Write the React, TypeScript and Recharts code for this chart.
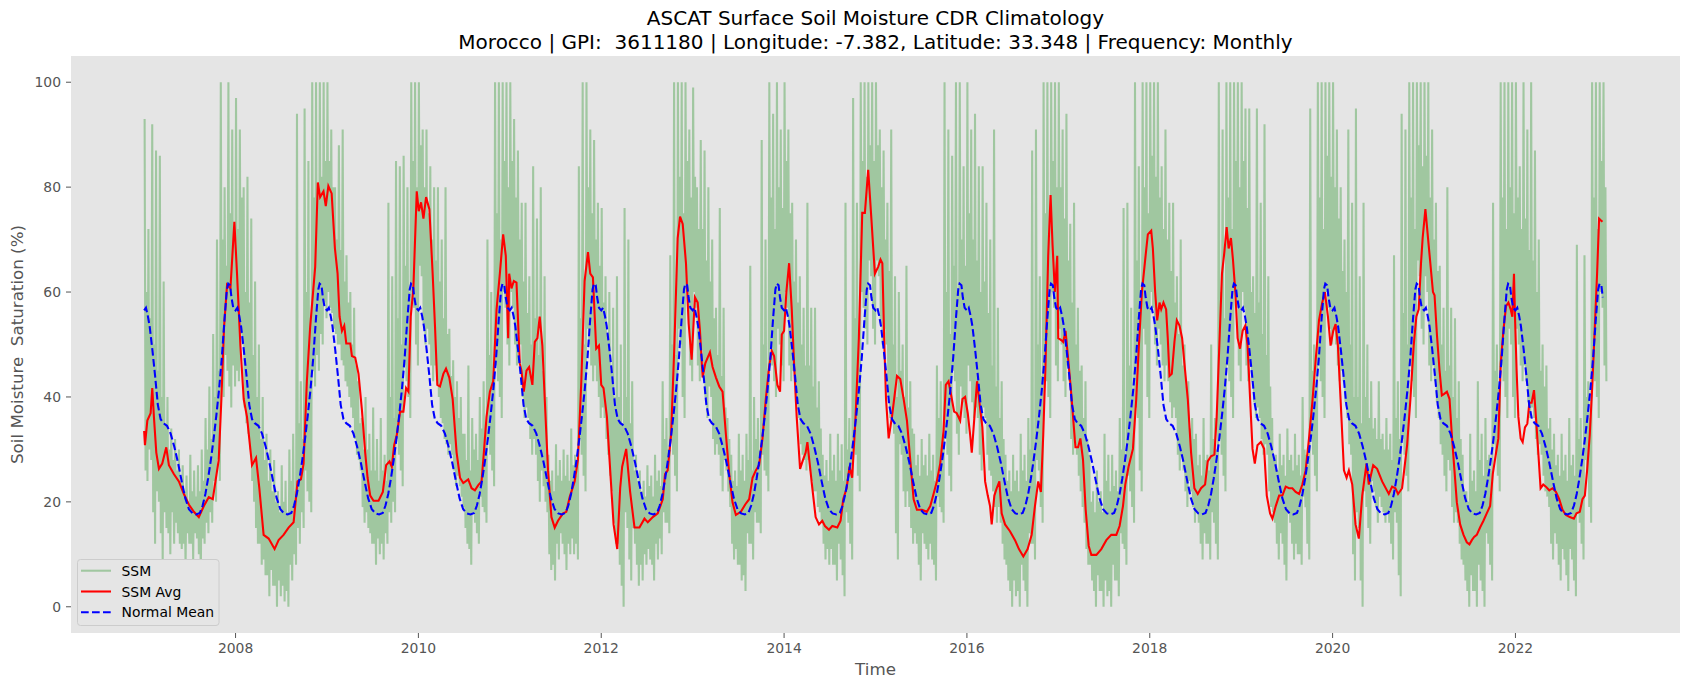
import React from 'react';
import { LineChart, Line, XAxis, YAxis, CartesianGrid } from 'recharts';

const W = 1690;
const H = 690;
const FONT = 'DejaVu Sans';

const yearTicks = [2008, 2010, 2012, 2014, 2016, 2018, 2020, 2022];
const ssmTicks = [0, 20, 40, 60, 80, 100];

// Surface soil moisture (%), eight readings per month, one row per month (Jan..Dec)
const ssm2007 = [
  93,26,60,24,72,30,55,28, 92,18,50,12,87,22,45,20, 86,14,40,8,62,18,35,15, 40,14,30,10,34,18,28,12,
  32,16,26,14,30,12,24,11, 27,12,22,8,25,14,20,12, 29,12,22,9,26,14,21,13, 27,10,22,6,30,13,24,12,
  36,16,30,14,42,18,32,16, 52,24,40,20,70,28,45,24, 100,42,70,40,80,48,65,45, 100,42,75,38,91,46,70,42,
];
const ssm2008 = [
  97,45,72,43,91,52,78,50, 80,38,60,35,82,33,58,30, 74,24,48,20,62,15,40,12, 50,12,32,8,40,9,28,6,
  33,6,24,2,30,7,22,4, 28,4,20,0,22,5,18,2, 27,4,20,1,24,3,18,0, 30,8,24,5,33,10,22,8,
  94,15,35,12,43,18,32,15, 95,26,60,22,85,20,55,18, 100,45,78,42,100,48,80,45, 100,52,82,50,100,58,85,55,
];
const ssm2009 = [
  100,60,85,57,91,56,80,53, 80,52,70,50,88,50,68,47, 91,46,62,43,67,42,58,40, 60,38,50,36,57,32,46,29,
  43,28,35,26,36,19,30,16, 40,18,30,15,33,14,26,12, 38,12,26,8,32,13,24,10, 36,12,26,9,29,14,24,12,
  77,18,40,16,63,20,36,18, 85,32,55,29,84,26,50,23, 86,46,65,43,80,40,60,36, 100,60,85,57,100,50,80,46,
];
const ssm2010 = [
  100,65,88,63,91,54,80,50, 91,53,75,50,84,46,70,43, 80,46,66,43,80,40,62,36, 70,35,55,32,80,31,52,29,
  53,31,44,29,47,26,40,23, 43,25,36,23,40,21,33,19, 33,15,28,12,46,11,26,8, 36,18,30,16,33,14,28,12,
  40,21,34,19,43,18,32,16, 70,32,48,29,60,26,44,23, 100,46,75,43,100,40,70,36, 100,60,85,57,100,50,80,46,
];
const ssm2011 = [
  100,60,85,57,93,50,78,46, 87,52,70,50,77,40,62,36, 77,38,56,36,63,32,50,29, 84,32,55,29,74,24,48,20,
  80,26,45,23,63,20,40,18, 29,10,24,7,26,8,22,5, 31,12,25,9,28,14,24,12, 30,10,25,7,29,12,24,10,
  34,13,27,10,29,12,25,9, 84,32,55,29,100,25,50,22, 100,53,80,50,91,46,75,43, 89,46,70,43,77,40,65,36,
];
const ssm2012 = [
  76,38,58,36,63,32,52,29, 60,25,45,22,57,16,40,12, 63,12,40,8,50,4,35,0, 76,18,40,15,70,9,35,5,
  43,15,26,12,29,8,24,4, 26,8,22,5,24,10,21,8, 27,11,23,9,25,8,21,5, 29,12,24,9,26,13,23,10,
  43,18,32,16,36,16,30,14, 67,32,50,29,100,25,48,22, 100,53,82,50,100,40,75,36, 100,60,85,57,91,46,78,43,
];
const ssm2013 = [
  99,60,82,57,80,46,72,43, 89,49,72,46,87,40,66,36, 80,42,62,40,70,32,55,29, 57,31,48,29,76,25,44,22,
  57,28,38,26,36,22,32,19, 29,12,24,9,26,11,23,8, 33,8,26,5,29,6,24,3, 33,14,28,12,65,12,26,9,
  40,18,32,16,36,16,30,14, 89,29,50,26,70,25,45,22, 100,49,78,46,94,43,72,40, 100,53,80,50,91,46,76,43,
];
const ssm2014 = [
  100,60,85,57,91,46,75,43, 77,45,62,43,70,39,58,36, 63,31,50,29,57,28,46,26, 77,28,46,26,57,24,42,22,
  57,22,38,19,43,18,34,16, 29,12,25,9,28,11,24,8, 33,11,26,8,29,8,24,5, 33,12,26,9,31,6,24,2,
  77,18,30,16,36,12,28,9, 97,32,55,29,77,25,50,22, 100,60,85,57,100,53,82,50, 100,66,88,63,100,53,85,50,
];
const ssm2015 = [
  100,66,88,63,91,54,80,50, 87,53,70,50,77,40,64,36, 91,36,50,33,63,14,40,9, 60,31,45,29,50,22,40,19,
  65,22,38,19,43,15,34,12, 33,14,27,12,29,8,25,5, 32,14,27,12,29,11,25,9, 33,12,26,9,29,8,24,5,
  46,21,36,19,43,18,33,16, 100,32,60,29,91,25,52,22, 86,45,65,43,100,33,60,29, 100,42,70,39,84,36,65,33,
];
const ssm2016 = [
  100,46,75,43,91,39,70,36, 94,38,66,36,84,29,60,26, 84,38,62,36,77,29,56,26, 70,25,46,22,91,19,42,16,
  57,19,36,16,43,12,32,9, 29,8,24,5,26,3,22,0, 29,5,24,2,26,3,22,0, 33,8,26,5,29,3,24,0,
  36,14,30,12,87,12,28,9, 91,28,50,26,63,19,44,16, 100,46,75,43,100,40,70,36, 100,60,85,57,100,46,80,43,
];
const ssm2017 = [
  100,53,80,50,91,43,74,40, 94,46,66,43,73,32,58,29, 77,32,50,29,57,25,45,22, 46,19,36,16,43,11,32,8,
  29,8,20,5,22,3,18,0, 26,6,20,3,22,3,18,0, 33,5,24,2,29,3,22,0, 29,8,23,5,26,5,22,2,
  36,14,30,12,76,11,28,8, 77,25,46,22,57,19,40,16, 100,38,66,36,84,26,58,22, 100,53,80,50,100,40,75,36,
];
const ssm2018 = [
  100,60,86,57,100,50,82,46, 100,53,78,50,84,46,72,43, 91,46,70,43,77,39,64,36, 77,38,58,36,63,29,52,26,
  70,29,46,26,50,22,42,19, 43,24,34,22,36,19,32,16, 33,18,27,16,29,12,25,9, 36,14,28,12,29,12,26,9,
  50,18,32,16,36,12,30,9, 100,32,60,29,91,25,55,22, 100,46,78,43,100,40,72,36, 100,60,85,57,100,46,80,43,
];
const ssm2019 = [
  100,60,85,57,95,46,76,43, 95,46,60,43,63,39,56,36, 95,38,58,36,77,32,52,29, 92,31,48,29,63,22,42,19,
  36,18,28,16,29,12,26,9, 33,14,27,12,29,8,25,5, 34,18,28,16,29,12,26,9, 33,12,27,10,29,10,25,8,
  40,21,30,19,29,12,27,9, 95,32,45,29,50,25,42,22, 100,46,78,43,100,40,72,36, 100,60,86,57,100,53,82,50,
];
const ssm2020 = [
  100,53,80,50,91,46,74,43, 80,45,64,43,70,39,60,36, 91,31,50,29,77,10,40,5, 95,18,40,15,63,5,35,0,
  77,22,40,19,50,15,36,12, 43,24,34,22,36,19,32,16, 43,21,32,19,33,18,30,16, 36,18,30,16,33,12,28,9,
  67,18,36,16,43,6,32,2, 94,32,56,29,91,25,50,22, 100,46,78,43,100,40,72,36, 100,66,88,63,100,53,84,50,
];
const ssm2021 = [
  100,63,86,60,100,46,78,43, 91,46,70,43,77,39,64,36, 65,31,50,29,57,25,45,22, 80,28,46,26,57,19,40,16,
  55,18,36,16,43,12,32,9, 29,8,22,5,22,3,20,0, 33,6,24,3,26,3,22,0, 43,8,28,5,33,3,25,0,
  36,14,28,12,29,8,26,5, 77,31,45,29,50,25,42,22, 100,46,78,43,100,40,72,36, 100,53,80,50,100,40,75,36,
];
const ssm2022 = [
  100,53,78,50,84,46,72,43, 100,46,74,43,91,39,68,36, 100,38,66,36,87,32,60,29, 70,31,45,29,50,25,42,22,
  46,21,34,19,36,12,30,9, 33,14,27,12,29,8,25,5, 33,11,26,9,29,6,24,3, 36,11,27,9,29,5,25,2,
  69,18,32,16,36,12,30,9, 67,28,40,26,43,19,36,16, 100,46,78,43,100,40,72,36, 100,60,85,57,100,46,80,43,
];

const ssmByYear: [number, number[]][] = [
  [2007, ssm2007], [2008, ssm2008], [2009, ssm2009], [2010, ssm2010],
  [2011, ssm2011], [2012, ssm2012], [2013, ssm2013], [2014, ssm2014],
  [2015, ssm2015], [2016, ssm2016], [2017, ssm2017], [2018, ssm2018],
  [2019, ssm2019], [2020, ssm2020], [2021, ssm2021], [2022, ssm2022],
];

// Running average of SSM: [decimal year, %]
const ssmAvg2007_2008: [number, number][] = [
  [2007.000,33.5],[2007.009,30.8],[2007.035,35.5],[2007.071,36.9],[2007.089,41.7],[2007.107,36.2],[2007.133,29.4],[2007.162,26.3],[2007.198,27.3],[2007.242,30.4],[2007.271,27.0],[2007.325,25.3],[2007.380,23.9],[2007.435,21.5],[2007.489,19.5],[2007.544,18.1],[2007.598,17.1],[2007.653,19.2],[2007.707,20.9],[2007.751,20.5],[2007.780,23.9],[2007.816,28.0],[2007.845,39.6],[2007.874,53.3],[2007.907,61.4],[2007.944,60.7],[2007.987,73.4],
  [2008.016,63.5],[2008.053,49.8],[2008.089,39.6],[2008.125,36.2],[2008.180,27.0],[2008.224,28.4],[2008.260,22.6],[2008.307,13.7],[2008.362,13.0],[2008.427,11.0],[2008.471,12.7],[2008.525,13.7],[2008.580,15.1],[2008.635,16.1],[2008.678,23.9],[2008.715,24.3],[2008.744,27.3],[2008.780,43.0],[2008.816,53.3],[2008.871,64.8],[2008.900,80.9],[2008.925,78.1],[2008.962,79.2],[2008.987,76.4],
];
const ssmAvg2009_2010: [number, number][] = [
  [2009.015,80.2],[2009.051,78.8],[2009.087,68.3],[2009.116,63.5],[2009.138,55.3],[2009.164,52.6],[2009.189,53.6],[2009.211,50.2],[2009.255,50.2],[2009.273,47.8],[2009.309,47.5],[2009.345,44.4],[2009.382,37.6],[2009.418,29.4],[2009.444,24.6],[2009.473,21.2],[2009.509,20.2],[2009.564,20.2],[2009.611,21.9],[2009.647,27.0],[2009.684,27.7],[2009.709,26.7],[2009.735,30.8],[2009.764,32.8],[2009.800,37.2],[2009.836,37.2],[2009.865,41.7],[2009.891,41.0],[2009.916,55.3],[2009.945,60.7],[2009.982,79.2],
  [2010.004,75.4],[2010.029,77.1],[2010.055,74.0],[2010.084,78.1],[2010.120,75.8],[2010.156,63.5],[2010.182,53.3],[2010.207,42.3],[2010.236,42.0],[2010.273,44.4],[2010.302,45.4],[2010.338,43.7],[2010.375,39.6],[2010.418,29.4],[2010.455,24.6],[2010.491,23.6],[2010.545,24.3],[2010.582,22.6],[2010.618,22.2],[2010.655,23.2],[2010.691,23.9],[2010.716,29.4],[2010.745,36.2],[2010.782,41.0],[2010.818,43.0],[2010.855,56.7],[2010.891,63.5],[2010.927,71.0],[2010.956,66.9],[2010.982,51.2],[2010.993,63.5],
];
const ssmAvg2011_2012: [number, number][] = [
  [2011.018,60.7],[2011.044,62.1],[2011.073,61.8],[2011.109,46.4],[2011.127,45.0],[2011.153,41.0],[2011.182,45.0],[2011.211,45.7],[2011.247,42.3],[2011.273,50.5],[2011.302,51.2],[2011.327,55.3],[2011.356,49.8],[2011.382,39.6],[2011.418,26.0],[2011.455,17.1],[2011.491,15.1],[2011.527,16.4],[2011.582,17.8],[2011.618,18.1],[2011.655,20.9],[2011.709,23.9],[2011.745,28.0],[2011.782,43.0],[2011.818,62.1],[2011.855,67.6],[2011.880,63.5],[2011.909,62.8],[2011.945,49.2],[2011.975,49.8],
  [2012.000,42.3],[2012.025,41.7],[2012.062,36.2],[2012.098,26.0],[2012.135,15.7],[2012.175,11.0],[2012.207,22.6],[2012.229,26.7],[2012.273,30.1],[2012.316,21.9],[2012.364,15.1],[2012.418,15.1],[2012.473,16.8],[2012.509,16.1],[2012.564,17.1],[2012.618,17.8],[2012.673,20.5],[2012.698,25.3],[2012.727,26.0],[2012.764,32.8],[2012.800,49.8],[2012.836,70.3],[2012.862,74.4],[2012.891,73.0],[2012.927,65.5],[2012.956,54.0],[2012.989,47.1],
];
const ssmAvg2013_2014: [number, number][] = [
  [2013.025,59.0],[2013.055,58.0],[2013.080,52.6],[2013.109,43.7],[2013.138,46.4],[2013.164,47.5],[2013.189,48.5],[2013.218,45.7],[2013.255,43.7],[2013.291,42.0],[2013.327,41.0],[2013.364,32.8],[2013.400,25.3],[2013.436,19.9],[2013.473,17.5],[2013.527,18.1],[2013.575,19.5],[2013.618,20.5],[2013.655,24.6],[2013.691,26.0],[2013.727,27.0],[2013.764,32.1],[2013.800,39.6],[2013.836,45.7],[2013.865,48.8],[2013.891,47.8],[2013.927,42.3],[2013.956,41.0],[2013.975,51.9],
  [2014.000,52.6],[2014.025,60.0],[2014.055,65.5],[2014.084,56.7],[2014.109,46.4],[2014.138,36.2],[2014.175,26.3],[2014.207,28.0],[2014.236,29.4],[2014.255,31.4],[2014.280,27.3],[2014.309,22.6],[2014.345,17.1],[2014.382,15.7],[2014.418,16.4],[2014.447,15.4],[2014.491,14.7],[2014.527,15.4],[2014.582,15.1],[2014.618,16.4],[2014.647,20.5],[2014.684,22.6],[2014.716,26.7],[2014.745,24.6],[2014.782,36.2],[2014.818,51.2],[2014.855,75.1],[2014.884,75.1],[2014.920,83.3],[2014.956,73.7],[2014.993,63.5],
];
const ssmAvg2015_2016: [number, number][] = [
  [2015.029,64.8],[2015.055,66.2],[2015.075,65.5],[2015.095,51.0],[2015.115,39.6],[2015.144,32.1],[2015.180,36.2],[2015.209,40.3],[2015.235,44.0],[2015.271,43.4],[2015.308,39.6],[2015.344,35.5],[2015.380,28.0],[2015.417,20.5],[2015.453,18.5],[2015.508,18.5],[2015.562,18.1],[2015.599,19.2],[2015.635,21.5],[2015.671,23.9],[2015.708,27.3],[2015.744,33.5],[2015.769,42.3],[2015.799,43.0],[2015.828,40.3],[2015.860,37.2],[2015.889,36.9],[2015.926,35.5],[2015.951,39.6],[2015.980,40.0],
  [2016.009,36.9],[2016.035,32.8],[2016.053,29.4],[2016.082,36.2],[2016.111,43.0],[2016.137,38.9],[2016.169,34.2],[2016.199,23.9],[2016.228,21.2],[2016.253,19.2],[2016.271,15.7],[2016.300,21.2],[2016.326,22.6],[2016.355,23.9],[2016.380,17.8],[2016.417,15.7],[2016.471,14.4],[2016.526,12.7],[2016.569,11.0],[2016.617,9.6],[2016.664,11.0],[2016.708,13.7],[2016.744,19.2],[2016.780,23.9],[2016.809,21.9],[2016.835,32.8],[2016.860,46.4],[2016.889,66.9],[2016.915,78.5],[2016.937,68.9],[2016.962,60.0],[2016.988,66.9],[2016.999,51.2],
];
const ssmAvg2017_2018: [number, number][] = [
  [2017.035,50.8],[2017.053,50.5],[2017.079,52.6],[2017.108,47.1],[2017.136,41.7],[2017.161,36.2],[2017.187,30.4],[2017.216,30.4],[2017.241,32.1],[2017.270,28.0],[2017.299,18.5],[2017.332,11.6],[2017.361,9.9],[2017.416,9.9],[2017.470,11.0],[2017.525,12.7],[2017.579,13.7],[2017.634,13.7],[2017.670,15.4],[2017.707,19.2],[2017.732,23.3],[2017.768,26.7],[2017.816,30.1],[2017.852,39.6],[2017.881,49.8],[2017.914,60.0],[2017.950,66.2],[2017.979,71.0],
  [2018.016,71.7],[2018.034,68.3],[2018.059,60.0],[2018.081,54.6],[2018.107,58.0],[2018.125,56.7],[2018.150,58.0],[2018.179,56.7],[2018.197,51.2],[2018.216,44.0],[2018.241,44.4],[2018.270,50.5],[2018.296,54.6],[2018.325,53.6],[2018.354,51.2],[2018.379,46.4],[2018.416,39.6],[2018.452,29.4],[2018.488,22.6],[2018.525,21.5],[2018.561,22.6],[2018.605,23.3],[2018.634,27.7],[2018.670,28.7],[2018.707,29.0],[2018.732,36.2],[2018.761,49.8],[2018.790,63.5],[2018.816,67.6],[2018.841,72.4],[2018.863,68.3],[2018.888,70.3],[2018.910,66.2],[2018.936,60.0],[2018.961,51.2],[2018.987,49.2],
];
const ssmAvg2019_2020: [number, number][] = [
  [2019.016,52.6],[2019.045,53.6],[2019.070,49.8],[2019.107,36.2],[2019.124,30.1],[2019.149,27.3],[2019.178,30.8],[2019.215,31.4],[2019.251,30.1],[2019.280,21.2],[2019.316,17.8],[2019.342,16.8],[2019.378,19.2],[2019.415,21.2],[2019.451,21.2],[2019.487,22.9],[2019.524,22.6],[2019.560,22.6],[2019.596,21.9],[2019.633,21.5],[2019.669,23.3],[2019.705,26.0],[2019.742,32.1],[2019.778,38.9],[2019.815,47.1],[2019.851,54.6],[2019.887,58.0],[2019.916,60.0],[2019.949,55.3],[2019.978,49.8],
  [2020.007,52.6],[2020.033,53.9],[2020.058,49.8],[2020.087,39.6],[2020.124,26.0],[2020.153,24.6],[2020.178,26.0],[2020.215,23.3],[2020.251,15.7],[2020.287,13.0],[2020.324,21.2],[2020.371,27.3],[2020.396,23.3],[2020.444,27.0],[2020.487,26.3],[2020.542,23.9],[2020.615,21.5],[2020.651,22.9],[2020.687,22.6],[2020.716,21.5],[2020.760,22.6],[2020.815,30.8],[2020.851,39.6],[2020.887,49.8],[2020.916,55.3],[2020.942,56.7],[2020.967,65.5],[2020.985,70.3],
];
const ssmAvg2021_2022: [number, number][] = [
  [2021.015,75.8],[2021.051,68.9],[2021.098,60.0],[2021.115,59.4],[2021.141,51.9],[2021.170,45.0],[2021.195,40.3],[2021.221,40.6],[2021.250,41.0],[2021.279,39.6],[2021.304,32.8],[2021.333,26.0],[2021.359,19.9],[2021.395,15.7],[2021.432,13.7],[2021.468,12.3],[2021.497,11.9],[2021.523,12.7],[2021.548,13.3],[2021.577,13.7],[2021.613,15.1],[2021.650,16.4],[2021.686,17.8],[2021.723,19.2],[2021.752,25.3],[2021.788,29.4],[2021.813,32.1],[2021.839,46.4],[2021.868,52.6],[2021.897,57.3],[2021.923,58.0],[2021.948,56.7],[2021.966,55.3],[2021.984,63.5],[2021.995,55.3],
  [2022.013,45.0],[2022.032,36.2],[2022.057,32.1],[2022.079,31.4],[2022.104,34.2],[2022.130,34.9],[2022.152,38.9],[2022.177,38.9],[2022.203,41.3],[2022.224,36.2],[2022.250,29.4],[2022.275,22.6],[2022.304,23.3],[2022.333,22.9],[2022.370,22.2],[2022.406,22.6],[2022.443,21.9],[2022.479,20.5],[2022.515,18.5],[2022.552,17.5],[2022.595,17.1],[2022.639,16.8],[2022.668,17.8],[2022.704,18.1],[2022.733,20.5],[2022.759,21.2],[2022.784,26.0],[2022.813,32.8],[2022.843,43.0],[2022.868,53.3],[2022.893,63.5],[2022.915,74.0],[2022.933,73.7],[2022.952,73.4],
];

// Climatological normal: [fraction of year, %]
const normalMeanCycle: [number, number][] = [
  [0.00,56.5],[0.02,57.0],[0.04,55.5],[0.06,53.5],[0.09,49.0],[0.12,44.0],[0.15,38.5],[0.18,35.8],[0.21,35.0],[0.25,34.5],[0.29,33.0],[0.33,30.5],[0.37,27.5],[0.41,24.0],[0.45,20.7],[0.49,18.6],[0.53,17.8],[0.57,17.6],[0.61,17.9],[0.64,19.3],[0.67,21.5],[0.70,24.5],[0.73,28.0],[0.76,32.0],[0.79,36.5],[0.82,41.5],[0.85,47.5],[0.88,55.0],[0.905,60.5],[0.92,61.6],[0.94,61.3],[0.955,59.0],[0.975,57.0],
];
const normalYears = [2007, 2008, 2009, 2010, 2011, 2012, 2013, 2014, 2015, 2016, 2017, 2018, 2019, 2020, 2021, 2022];
const seriesEnd = 2022.96;

const ssmData = ssmByYear.flatMap(([year, vals]) =>
  vals.map((v, i) => ({ t: year + (i + 0.5) / vals.length, v }))
);
const ssmAvgData = [
  ...ssmAvg2007_2008, ...ssmAvg2009_2010, ...ssmAvg2011_2012, ...ssmAvg2013_2014,
  ...ssmAvg2015_2016, ...ssmAvg2017_2018, ...ssmAvg2019_2020, ...ssmAvg2021_2022,
].map(([t, v]) => ({ t, v }));
const normalData = normalYears
  .flatMap((year) => normalMeanCycle.map(([f, v]) => ({ t: year + f, v })))
  .filter((d) => d.t <= seriesEnd);

const LW = 2.08;
const DASH = '7.7 3.3';

const legendItems = [
  { label: 'SSM', color: '#a0c7a0', dash: undefined as string | undefined },
  { label: 'SSM Avg', color: '#ff0000', dash: undefined as string | undefined },
  { label: 'Normal Mean', color: '#0000ff', dash: DASH },
];

export default function App() {
  const tickStyle = { fill: '#555555', fontSize: 13.9, fontFamily: FONT };
  return (
    <div style={{ position: 'absolute', left: 0, top: 0, width: W, height: H, background: '#ffffff' }}>
      <LineChart width={W} height={H} margin={{ top: 56, right: 10, bottom: 27, left: 21 }}>
        <CartesianGrid fill="#e5e5e5" stroke="none" horizontal={false} vertical={false} />
        <XAxis
          type="number"
          dataKey="t"
          domain={[2006.2, 2023.8]}
          ticks={yearTicks}
          interval={0}
          allowDataOverflow
          axisLine={false}
          tickLine={{ stroke: '#555555' }}
          tickSize={5}
          tickMargin={5}
          height={30}
          tick={tickStyle}
        />
        <YAxis
          type="number"
          domain={[-5, 105]}
          ticks={ssmTicks}
          interval={0}
          allowDataOverflow
          axisLine={false}
          tickLine={{ stroke: '#555555' }}
          tickSize={5}
          tickMargin={5}
          width={50}
          tick={tickStyle}
        />
        <Line data={ssmData} dataKey="v" type="linear" stroke="#a0c7a0" strokeWidth={LW} dot={false} activeDot={false} isAnimationActive={false} />
        <Line data={ssmAvgData} dataKey="v" type="linear" stroke="#ff0000" strokeWidth={LW} dot={false} activeDot={false} isAnimationActive={false} />
        <Line data={normalData} dataKey="v" type="linear" stroke="#0000ff" strokeWidth={LW} strokeDasharray={DASH} dot={false} activeDot={false} isAnimationActive={false} />
      </LineChart>
      <svg width={W} height={H} style={{ position: 'absolute', left: 0, top: 0, pointerEvents: 'none' }} fontFamily={FONT}>
        <text x={875.5} y={25} textAnchor="middle" fontSize={20} fill="#000">ASCAT Surface Soil Moisture CDR Climatology</text>
        <text x={875.5} y={48.5} textAnchor="middle" fontSize={20} fill="#000" style={{ whiteSpace: 'pre' }}>
          {'Morocco | GPI:  3611180 | Longitude: -7.382, Latitude: 33.348 | Frequency: Monthly'}
        </text>
        <text x={875.5} y={675} textAnchor="middle" fontSize={16.7} fill="#555555">Time</text>
        <text x={22.9} y={344.5} textAnchor="middle" fontSize={16.7} fill="#555555" transform="rotate(-90 22.9 344.5)" style={{ whiteSpace: 'pre' }}>
          {'Soil Moisture  Saturation (%)'}
        </text>
        <rect x={77.5} y={559.5} width={141.5} height={66} rx={3} fill="#e5e5e5" stroke="#cccccc" strokeWidth={1} />
        {legendItems.map((item, i) => {
          const cy = 570.7 + i * 20.8;
          return (
            <g key={item.label}>
              <line x1={81} x2={111} y1={cy} y2={cy} stroke={item.color} strokeWidth={LW} strokeDasharray={item.dash} />
              <text x={121.5} y={cy + 5} fontSize={13.9} fill="#000">{item.label}</text>
            </g>
          );
        })}
      </svg>
    </div>
  );
}
